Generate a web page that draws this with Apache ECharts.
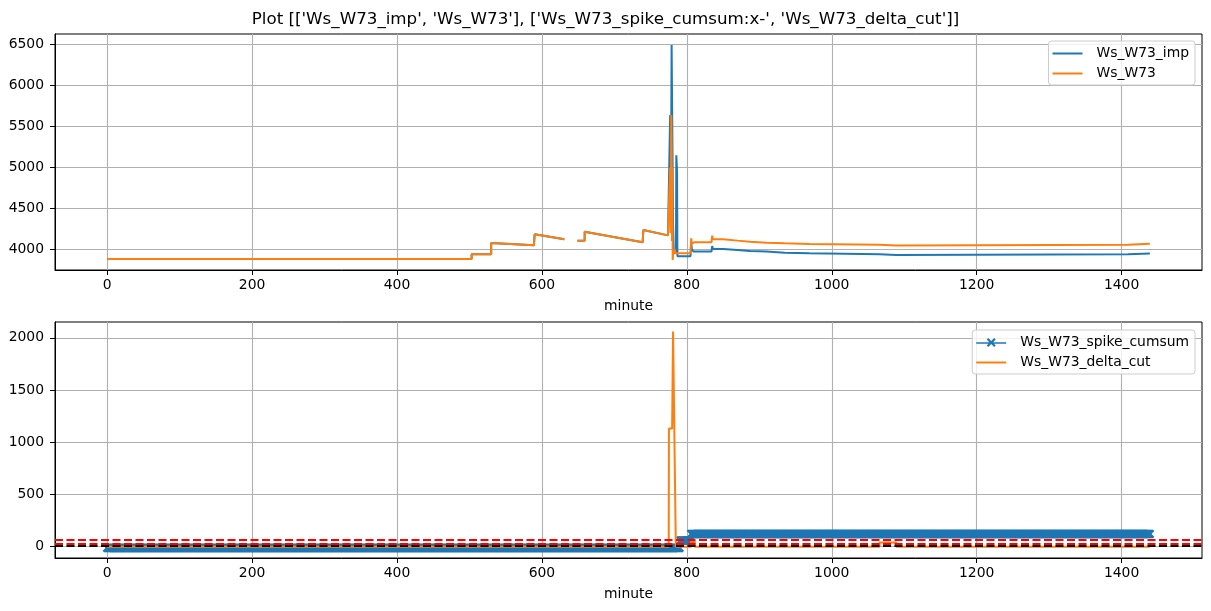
<!DOCTYPE html>
<html><head><meta charset="utf-8">
<script src="https://cdn.jsdelivr.net/npm/echarts@6/dist/echarts.min.js"></script>
<style>html,body{margin:0;padding:0;background:#fff}#c{width:1211px;height:611px}</style>
</head><body><div id="c"></div>
<script>
const titleText = "Plot [['Ws_W73_imp', 'Ws_W73'], ['Ws_W73_spike_cumsum:x-', 'Ws_W73_delta_cut']]";
const xTicks = [0, 200, 400, 600, 800, 1000, 1200, 1400];
const yTicksTop = [4000, 4500, 5000, 5500, 6000, 6500];
const yTicksBottom = [0, 500, 1000, 1500, 2000];

// [minute, value]; null = gap
const wsImp = [[0,3880],[503,3880],[503,3938],[530,3938],[530,4078],[589,4050],[590,4183],[631,4122],[640,null],[649,4105],[659,4105],[659,4215],[739,4085],[740,4235],[774,4170],[776,4160],[777,5640],[778,4400],[779,6495],[780.5,6495],[781,4300],[782,3950],[785,3960],[785.5,5150],[786.5,4950],[787,3915],[805,3915],[806,4073],[807,4000],[809,3972],[834,3972],[835,4040],[836,4004],[850,4004],[851,3992],[870,3992],[871,3980],[887,3980],[888,3972],[910,3972],[911,3959],[935,3959],[936,3951],[969,3951],[970,3939],[1066,3939],[1066,3931],[1089,3931],[1090,3939],[1409,3939],[1410,3950],[1439,3950]];
const ws = [[0,3880],[503,3880],[503,3938],[530,3938],[530,4078],[589,4050],[590,4183],[631,4122],[640,null],[649,4105],[659,4105],[659,4215],[739,4085],[740,4235],[774,4170],[776,4160],[777,5000],[777.5,4200],[778,4600],[778.5,5640],[779,5300],[779.5,4100],[780,5000],[780.5,3870],[781,3950],[783,3950],[783.5,4000],[784,3952],[805,3952],[806,4134],[807,4070],[810,4085],[834,4085],[835,4167],[836,4122],[850,4122],[851,4106],[870,4106],[871,4093],[887,4093],[888,4081],[910,4081],[911,4073],[935,4073],[936,4065],[969,4065],[970,4057],[1066,4057],[1066,4045],[1089,4045],[1090,4057],[1409,4057],[1410,4068],[1439,4068]];
// runs of constant value: [firstMinute, lastMinute, value], one marker per minute
const spikeCumsumRuns = [[0,790,-12],[791,805,60],[806,1439,122]];
const deltaCut = [[0,0],[775,0],[775.3,1131],[779.7,1131],[781,2060],[782.5,2060],[784.8,0],[806,0],[806,50],[811,50],[811,0],[1066,0],[1066,40],[1089,40],[1089,0],[1439,0]];
const redLevels = [68, 28];
const blackLevels = [12];

const BLUE = '#1f77b4', ORANGE = '#ff7f0e';
const FONT = 'DejaVu Sans';
const conv = arr => arr.map(p => [p[0], p[1] === null ? '-' : p[1]]);
const cumsumData = [];
spikeCumsumRuns.forEach(r => { for (let m = r[0]; m <= r[1]; m++) cumsumData.push([m, r[2]]); });

const xMarker = 'path://M0,1.8L1.8,0L5,3.2L8.2,0L10,1.8L6.8,5L10,8.2L8.2,10L5,6.8L1.8,10L0,8.2L3.2,5Z';
const lineIcon = 'path://M0,0L30,0L30,2L0,2Z';
const lineXIcon = 'path://M0,4.2L30,4.2L30,5.8L0,5.8Z M10.5,1.6L12.1,0L15,2.9L17.9,0L19.5,1.6L16.6,4.5L19.5,7.4L17.9,9L15,6.1L12.1,9L10.5,7.4L13.4,4.5Z';
const plain = v => String(v);

function xAxisCfg(idx) {
  return {
    type: 'value', gridIndex: idx, min: -71.95, max: 1510.95,
    name: 'minute', nameLocation: 'middle', nameGap: 29,
    nameTextStyle: { fontFamily: FONT, fontSize: 13.9, color: '#000' },
    axisLine: { show: true, onZero: false, lineStyle: { color: '#000', width: 1 } },
    axisTick: { show: true, length: 5, customValues: xTicks, lineStyle: { color: '#000', width: 1 } },
    axisLabel: { customValues: xTicks, formatter: plain, margin: 8, fontFamily: FONT, fontSize: 13.9, color: '#000' },
    splitLine: { show: true, lineStyle: { color: '#b0b0b0', width: 1.1 } }
  };
}
function yAxisCfg(idx, min, max, ticks) {
  return {
    type: 'value', gridIndex: idx, min: min, max: max,
    axisLine: { show: true, onZero: false, lineStyle: { color: '#000', width: 1 } },
    axisTick: { show: true, length: 5, customValues: ticks, lineStyle: { color: '#000', width: 1 } },
    axisLabel: { customValues: ticks, formatter: plain, margin: 11, fontFamily: FONT, fontSize: 13.9, color: '#000' },
    splitLine: { show: true, lineStyle: { color: '#b0b0b0', width: 1.1 } }
  };
}
const legendCommon = {
  orient: 'vertical', right: 16, itemWidth: 30, itemGap: 3,
  backgroundColor: 'rgba(255,255,255,0.8)', borderColor: '#cccccc', borderWidth: 1, borderRadius: 3,
  padding: [4, 6, 3, 4],
  textStyle: { fontFamily: FONT, fontSize: 13.9, color: '#000', lineHeight: 17, padding: [0, 0, 0, 9] }
};

const chart = echarts.init(document.getElementById('c'), null, { renderer: 'canvas' });
chart.setOption({
  animation: false,
  backgroundColor: '#fff',
  title: { text: titleText, left: 'center', top: 6, textStyle: { fontFamily: FONT, fontSize: 16.7, fontWeight: 'normal', color: '#000' } },
  grid: [
    { left: 55, top: 34, width: 1147, height: 236, show: true, borderColor: '#000', borderWidth: 1, backgroundColor: 'transparent' },
    { left: 55, top: 322, width: 1147, height: 236, show: true, borderColor: '#000', borderWidth: 1, backgroundColor: 'transparent' }
  ],
  xAxis: [xAxisCfg(0), xAxisCfg(1)],
  yAxis: [yAxisCfg(0, 3747, 6631, yTicksTop), yAxisCfg(1, -108, 2152, yTicksBottom)],
  legend: [
    Object.assign({}, legendCommon, { top: 41, itemHeight: 2, data: [
      { name: 'Ws_W73_imp', icon: lineIcon }, { name: 'Ws_W73', icon: lineIcon }] }),
    Object.assign({}, legendCommon, { top: 330, itemHeight: 9, data: [
      { name: 'Ws_W73_spike_cumsum', icon: lineXIcon }, { name: 'Ws_W73_delta_cut', icon: lineIcon, itemStyle: { color: ORANGE } }] })
  ],
  series: [
    { type: 'line', name: 'Ws_W73_imp', xAxisIndex: 0, yAxisIndex: 0, data: conv(wsImp), showSymbol: false, symbol: 'none',
      lineStyle: { color: BLUE, width: 2 }, itemStyle: { color: BLUE }, z: 2 },
    { type: 'line', name: 'Ws_W73', xAxisIndex: 0, yAxisIndex: 0, data: conv(ws), showSymbol: false, symbol: 'none',
      lineStyle: { color: ORANGE, width: 2 }, itemStyle: { color: ORANGE }, z: 3 },
    { type: 'line', name: 'Ws_W73_spike_cumsum', xAxisIndex: 1, yAxisIndex: 1, data: cumsumData,
      symbol: xMarker, symbolSize: 9, showSymbol: true, showAllSymbol: true, clip: false,
      lineStyle: { color: BLUE, width: 2 }, itemStyle: { color: BLUE }, z: 2 },
    { type: 'line', name: 'Ws_W73_delta_cut', xAxisIndex: 1, yAxisIndex: 1, data: conv(deltaCut), showSymbol: false, symbol: 'none',
      lineStyle: { color: ORANGE, width: 2 }, itemStyle: { color: ORANGE }, z: 3 },
    { type: 'line', name: 'thresholds', xAxisIndex: 1, yAxisIndex: 1, data: [], z: 4,
      markLine: { silent: true, symbol: ['none', 'none'], label: { show: false }, animation: false,
        data: redLevels.map(v => ({ yAxis: v, lineStyle: { color: '#ff0000', type: [8, 3.5], width: 2 } }))
          .concat(blackLevels.map(v => ({ yAxis: v, lineStyle: { color: '#000000', type: [8, 3.5], width: 2 } }))) } }
  ]
});
</script></body></html>
